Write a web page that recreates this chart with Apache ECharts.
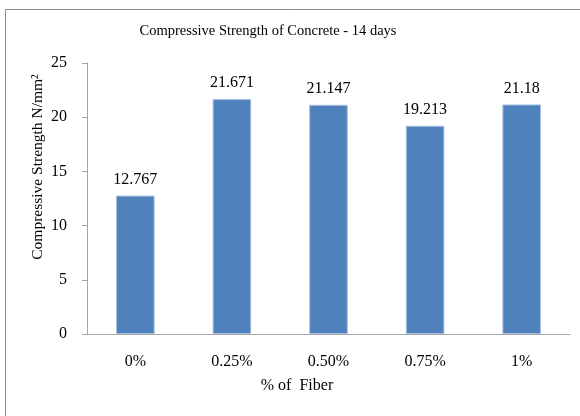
<!DOCTYPE html>
<html>
<head>
<meta charset="utf-8">
<script src="https://cdn.jsdelivr.net/npm/echarts@6/dist/echarts.min.js"></script>
<style>
  html, body { margin: 0; padding: 0; background: #fff; }
  #chart { width: 580px; height: 416px; }
</style>
</head>
<body>
<div id="chart"></div>
<script>
// Fiber dosage categories and 14-day compressive strength (N/mm²)
const fiberContent = ['0%', '0.25%', '0.50%', '0.75%', '1%'];
const strength14d = [12.767, 21.671, 21.147, 19.213, 21.18];
const yTicks = { min: 0, max: 25, step: 5 };

const serif = '"Liberation Serif", "Times New Roman", serif';
const chart = echarts.init(document.getElementById('chart'));

chart.setOption({
  animation: false,
  backgroundColor: '#fff',
  grid: { left: 87, right: 10, top: 63, bottom: 82, containLabel: false },
  graphic: [
    {
      type: 'rect',
      shape: { x: 5.5, y: 9.5, width: 620, height: 440 },
      style: { fill: 'none', stroke: '#8c8c8c', lineWidth: 1 },
      silent: true
    },
    {
      type: 'text',
      x: 268, y: 31,
      style: {
        text: 'Compressive Strength of Concrete - 14 days',
        font: '14.5px ' + serif,
        fill: '#000',
        align: 'center',
        verticalAlign: 'middle'
      }
    },
    {
      type: 'text',
      x: 38, y: 167,
      rotation: Math.PI / 2,
      style: {
        text: 'Compressive Strength N/mm²',
        font: '15.5px ' + serif,
        fill: '#000',
        align: 'center',
        verticalAlign: 'middle'
      }
    },
    {
      type: 'text',
      x: 297, y: 386,
      style: {
        text: '% of  Fiber',
        font: '16px ' + serif,
        fill: '#000',
        align: 'center',
        verticalAlign: 'middle'
      }
    }
  ],
  xAxis: {
    type: 'category',
    data: fiberContent,
    axisLine: { show: true, lineStyle: { color: '#a6a6a6', width: 1 } },
    axisTick: { show: false },
    axisLabel: { color: '#000', fontFamily: serif, fontSize: 16, margin: 20 },
    splitLine: { show: false }
  },
  yAxis: {
    type: 'value',
    min: yTicks.min,
    max: yTicks.max,
    interval: yTicks.step,
    axisLine: { show: true, lineStyle: { color: '#a6a6a6', width: 1 } },
    axisTick: { show: true, inside: false, length: 5, lineStyle: { color: '#a6a6a6' } },
    axisLabel: { color: '#000', fontFamily: serif, fontSize: 16, margin: 20 },
    splitLine: { show: false }
  },
  series: [{
    type: 'bar',
    data: strength14d,
    barWidth: '40%',
    itemStyle: { color: '#4f81bd', borderColor: '#a9c1e0', borderWidth: 1 },
    label: {
      show: true,
      position: 'top',
      distance: 8,
      color: '#000',
      fontFamily: serif,
      fontSize: 16
    }
  }]
});
</script>
</body>
</html>
